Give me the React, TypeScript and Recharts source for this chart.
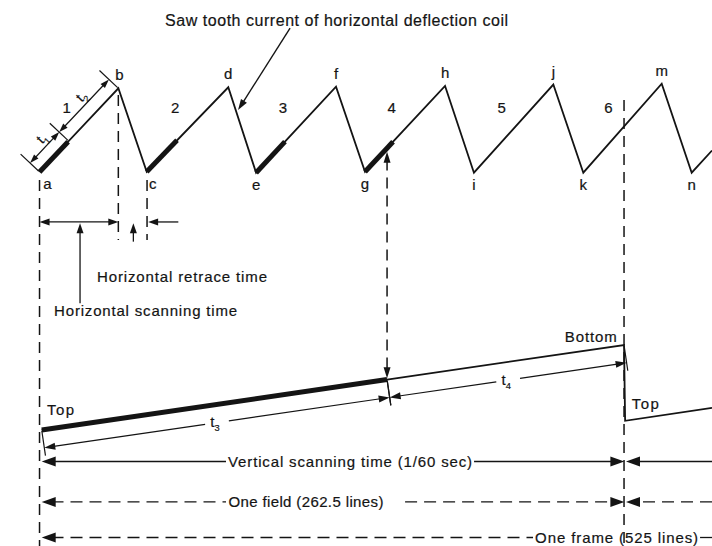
import React from 'react';
import { ComposedChart, Line, XAxis, YAxis, ReferenceLine, ReferenceDot, LabelList } from 'recharts';

const W = 712;
const H = 546;
const INK = '#141414';
const FONT = '"Liberation Sans", Arial, Helvetica, sans-serif';
const TEXT_STROKE = 0.2;

// ---------- data (time in horizontal line periods) ----------
// Horizontal deflection sawtooth current (trough = 0, peak ~ 1)
const hPointNames = ['a', 'b', 'c', 'd', 'e', 'f', 'g', 'h', 'i', 'j', 'k', 'm', 'n', ''];
const hTimes = [0, 0.726, 0.987, 1.738, 1.994, 2.73, 2.997, 3.734, 4.0, 4.731, 5.007, 5.729, 6.005, 6.192];
const hCurrent = [0, 0.973, 0.003, 0.985, -0.008, 0.992, 0.003, 1.0, -0.008, 1.017, -0.008, 1.026, -0.008, 0.25];

// Thick (t1) portion at the start of lines 1-4
const t1StartTimes = [0, 0.987, 1.994, 2.997];
const t1StartCurrent = [0, 0.003, -0.008, 0.003];
const t1EndTimes = [0.263, 1.266, 2.26, 3.255];
const t1EndCurrent = [0.352, 0.368, 0.353, 0.352];
const t1Fraction = 0.37;

// Line numbers
const periodNumbers = ['1', '2', '3', '4', '5', '6'];
const periodTimes = [0.25, 1.248, 2.242, 3.243, 4.256, 5.238];
const periodLevel = 0.69;

// Vertical deflection ramp (top = 0, bottom = 1)
const vTimes = [0.02, 3.2, 5.382, 5.392, 6.192];
const vDeflection = [0, 0.593, 1.0, 0.108, 0.26];

const hData = hTimes.map((t, i) => ({ t, y: hCurrent[i], name: hPointNames[i] }));
const vData = vTimes.map((t, i) => ({ t, y: vDeflection[i] }));
const thickH = t1StartTimes.map((t, i) => [
  { t, y: t1StartCurrent[i] },
  { t: t1EndTimes[i], y: t1EndCurrent[i] },
]);
const thickV = [vData[0], vData[1]];

// ---------- drawing helpers ----------
const head = (tx: number, ty: number, ux: number, uy: number, len: number, half: number) => {
  const bx = tx - ux * len;
  const by = ty - uy * len;
  return `${tx},${ty} ${bx - uy * half},${by + ux * half} ${bx + uy * half},${by - ux * half}`;
};

type Opts = { start?: boolean; end?: boolean; len?: number; half?: number; width?: number; dash?: string };

const okNum = (v: any) => typeof v === 'number' && !isNaN(v);

const arrowShape = (o: Opts) => (p: any) => {
  const { x1, y1, x2, y2 } = p;
  if (![x1, y1, x2, y2].every(okNum)) return <g />;
  const L = Math.hypot(x2 - x1, y2 - y1) || 1;
  const ux = (x2 - x1) / L;
  const uy = (y2 - y1) / L;
  const len = o.len ?? 10;
  const half = o.half ?? 3.5;
  const sx = o.start ? x1 + ux * len * 0.7 : x1;
  const sy = o.start ? y1 + uy * len * 0.7 : y1;
  const ex = o.end ? x2 - ux * len * 0.7 : x2;
  const ey = o.end ? y2 - uy * len * 0.7 : y2;
  return (
    <g>
      <line x1={sx} y1={sy} x2={ex} y2={ey} stroke={INK} strokeWidth={o.width ?? 1.3} strokeDasharray={o.dash} />
      {o.start ? <polygon points={head(x1, y1, -ux, -uy, len, half)} fill={INK} /> : null}
      {o.end ? <polygon points={head(x2, y2, ux, uy, len, half)} fill={INK} /> : null}
    </g>
  );
};

const tSub = (n: string, size = 15) => [
  <tspan key="t">t</tspan>,
  <tspan key="s" fontSize={size * 0.62} dy={size * 0.28}>{n}</tspan>,
];

type DimOpts = {
  up: boolean;
  offset: number;
  tick: number;
  splits: number[];
  labels: string[];
  inline: boolean;
  labelOffset?: number;
  labelShift?: number;
  gap?: number;
  len?: number;
  half?: number;
};

const dimShape = (o: DimOpts) => (p: any) => {
  const { x1, y1, x2, y2 } = p;
  if (![x1, y1, x2, y2].every(okNum)) return <g />;
  const dx = x2 - x1;
  const dy = y2 - y1;
  const L = Math.hypot(dx, dy) || 1;
  const ux = dx / L;
  const uy = dy / L;
  let nx = -uy;
  let ny = ux;
  if ((o.up && ny > 0) || (!o.up && ny < 0)) {
    nx = -nx;
    ny = -ny;
  }
  const len = o.len ?? 9;
  const half = o.half ?? 3;
  const fr = [0, ...o.splits, 1];
  const pts = fr.map((f) => ({ x: x1 + dx * f, y: y1 + dy * f }));
  const ang = (Math.atan2(uy, ux) * 180) / Math.PI;
  const els: React.ReactNode[] = [];
  pts.forEach((q, i) => {
    els.push(
      <line key={`tk${i}`} x1={q.x + nx * 1} y1={q.y + ny * 1} x2={q.x + nx * o.tick} y2={q.y + ny * o.tick} stroke={INK} strokeWidth={1.2} />
    );
  });
  for (let i = 0; i < pts.length - 1; i++) {
    const a = { x: pts[i].x + nx * o.offset, y: pts[i].y + ny * o.offset };
    const b = { x: pts[i + 1].x + nx * o.offset, y: pts[i + 1].y + ny * o.offset };
    const m = { x: (a.x + b.x) / 2, y: (a.y + b.y) / 2 };
    if (o.inline) {
      const g = o.gap ?? 12;
      const ga = { x: m.x - ux * g, y: m.y - uy * g };
      const gb = { x: m.x + ux * g, y: m.y + uy * g };
      els.push(<g key={`l${i}a`}>{arrowShape({ start: true, len, half, width: 1.2 })({ x1: a.x, y1: a.y, x2: ga.x, y2: ga.y })}</g>);
      els.push(<g key={`l${i}b`}>{arrowShape({ end: true, len, half, width: 1.2 })({ x1: gb.x, y1: gb.y, x2: b.x, y2: b.y })}</g>);
      els.push(
        <text key={`tx${i}`} x={m.x - 2} y={m.y} dy="0.3em" textAnchor="middle" fontFamily={FONT} fontSize={15} fill={INK}
          stroke={INK} strokeWidth={TEXT_STROKE}>
          {tSub(o.labels[i])}
        </text>
      );
    } else {
      els.push(<g key={`l${i}`}>{arrowShape({ start: true, end: true, len, half, width: 1.2 })({ x1: a.x, y1: a.y, x2: b.x, y2: b.y })}</g>);
      const lo = o.labelOffset ?? 24;
      const ls = o.labelShift ?? 0;
      const cx = m.x - (o.offset - lo) * nx + ux * ls;
      const cy = m.y - (o.offset - lo) * ny + uy * ls;
      els.push(
        <text key={`tx${i}`} x={cx} y={cy} dy="0.3em" textAnchor="middle" fontFamily={FONT} fontSize={14} fill={INK}
          stroke={INK} strokeWidth={TEXT_STROKE} transform={`rotate(${ang} ${cx} ${cy})`}>
          {tSub(o.labels[i], 14)}
        </text>
      );
    }
  }
  return <g>{els}</g>;
};

type TOpts = { anchor?: 'start' | 'middle' | 'end'; size?: number; len?: number; dy?: string };
const textShape = (content: string, o: TOpts = {}) => (p: any) => {
  if (!okNum(p.cx) || !okNum(p.cy)) return <g />;
  return (
    <text x={p.cx} y={p.cy} dy={o.dy} textAnchor={o.anchor ?? 'start'} fontFamily={FONT} fontSize={o.size ?? 15} fill={INK}
      stroke={INK} strokeWidth={TEXT_STROKE} textLength={o.len} lengthAdjust={o.len ? 'spacing' : undefined}>
      {content}
    </text>
  );
};

const seg = (key: string, axis: string, p1: { x: number; y: number }, p2: { x: number; y: number }, o: Opts) => (
  <ReferenceLine key={key} yAxisId={axis} segment={[p1, p2]} ifOverflow="visible" shape={arrowShape(o)} />
);
const txt = (key: string, axis: string, x: number, y: number, content: string, o: TOpts = {}) => (
  <ReferenceDot key={key} yAxisId={axis} x={x} y={y} r={0} ifOverflow="visible" shape={textShape(content, o)} />
);

const vertexLabel = (p: any) => {
  const { x, y, value, index } = p;
  if (!value || !okNum(x) || !okNum(y)) return null;
  const peak = index % 2 === 1;
  const dx = index === 0 ? 8 : index === 2 ? 6 : index === 1 ? 1 : 0;
  return (
    <text x={x + dx} y={peak ? y - 8 : y + 17} textAnchor="middle" fontFamily={FONT} fontSize={15} fill={INK}
      stroke={INK} strokeWidth={TEXT_STROKE}>
      {value}
    </text>
  );
};

const DASH_V = '11 7';
const DASH_H = '12 7';

export default function App() {
  return (
    <div style={{ position: 'absolute', left: 0, top: 0, width: W, height: H, background: '#fff' }}>
      <ComposedChart width={W} height={H} margin={{ top: 0, right: 0, bottom: 0, left: 0 }}>
        <XAxis type="number" dataKey="t" domain={[-0.364, 6.192]} hide allowDataOverflow />
        <YAxis yAxisId="h" type="number" domain={[-4.349, 2]} hide allowDataOverflow />
        <YAxis yAxisId="v" type="number" domain={[-1.365, 5.059]} hide allowDataOverflow />

        {/* vertical dashed guide lines */}
        {seg('dv0', 'h', { x: 0, y: -0.093 }, { x: 0, y: -4.349 }, { dash: DASH_V, width: 1.5 })}
        {seg('dvb', 'h', { x: 0.7256, y: 0.895 }, { x: 0.7256, y: -0.79 }, { dash: DASH_V, width: 1.5 })}
        {seg('dvc', 'h', { x: 0.99, y: -0.093 }, { x: 0.99, y: -0.79 }, { dash: DASH_V, width: 1.5 })}
        {seg('dvg', 'h', { x: 3.2, y: 0.236 }, { x: 3.2, y: -2.399 }, { dash: DASH_V, width: 1.5, start: true, end: true, len: 11, half: 3.5 })}
        {seg('dv6', 'h', { x: 5.382, y: 0.837 }, { x: 5.382, y: -4.349 }, { dash: DASH_V, width: 1.5 })}

        {/* horizontal sawtooth */}
        <Line yAxisId="h" data={hData} dataKey="y" type="linear" stroke={INK} strokeWidth={1.8} dot={false} activeDot={false} isAnimationActive={false}>
          <LabelList dataKey="name" content={vertexLabel} />
        </Line>
        {thickH.map((d, i) => (
          <Line key={`th${i}`} yAxisId="h" data={d} dataKey="y" type="linear" stroke={INK} strokeWidth={5} dot={false} activeDot={false} isAnimationActive={false} />
        ))}

        {/* vertical ramp */}
        <Line yAxisId="v" data={vData} dataKey="y" type="linear" stroke={INK} strokeWidth={1.8} dot={false} activeDot={false} isAnimationActive={false} />
        <Line yAxisId="v" data={thickV} dataKey="y" type="linear" stroke={INK} strokeWidth={5} dot={false} activeDot={false} isAnimationActive={false} />

        {/* title and pointer */}
        {txt('title', 'h', 1.156, 1.698, 'Saw tooth current of horizontal deflection coil', { size: 16, len: 343 })}
        {seg('ptr', 'h', { x: 2.307, y: 1.674 }, { x: 1.828, y: 0.72 }, { end: true, len: 11, half: 3.5, width: 1.4 })}

        {/* line numbers */}
        {periodNumbers.map((n, i) => txt(`pn${i}`, 'h', periodTimes[i], periodLevel, n, { anchor: 'middle' }))}

        {/* t1 / t2 dimension */}
        <ReferenceLine
          yAxisId="h"
          segment={[{ x: hData[0].t, y: hData[0].y }, { x: hData[1].t, y: hData[1].y }]}
          ifOverflow="visible"
          shape={dimShape({ up: true, offset: 13, tick: 26, splits: [t1Fraction], labels: ['1', '2'], inline: false, labelOffset: 21, labelShift: 5 })}
        />

        {/* horizontal scanning / retrace */}
        {seg('hs', 'h', { x: 0, y: -0.581 }, { x: 0.7256, y: -0.581 }, { start: true, end: true, len: 10, half: 3.5 })}
        {seg('hr', 'h', { x: 1.278, y: -0.581 }, { x: 1.0, y: -0.581 }, { end: true, len: 10, half: 3.5 })}
        {seg('hru', 'h', { x: 0.864, y: -0.81 }, { x: 0.864, y: -0.597 }, { end: true, len: 10, half: 3.5 })}
        {seg('hsu', 'h', { x: 0.373, y: -1.527 }, { x: 0.373, y: -0.597 }, { end: true, len: 10, half: 3.5 })}
        {txt('hrt', 'h', 0.529, -1.276, 'Horizontal retrace time', { len: 170 })}
        {txt('hst', 'h', 0.134, -1.674, 'Horizontal scanning time', { len: 183 })}

        {/* t3 / t4 dimensions */}
        <ReferenceLine
          yAxisId="v"
          segment={[{ x: vData[0].t, y: vData[0].y }, { x: vData[1].t, y: vData[1].y }]}
          ifOverflow="visible"
          shape={dimShape({ up: false, offset: 18, tick: 26, splits: [], labels: ['3'], inline: true, gap: 12, len: 11, half: 3.5 })}
        />
        <ReferenceLine
          yAxisId="v"
          segment={[{ x: vData[1].t, y: vData[1].y }, { x: vData[2].t, y: vData[2].y }]}
          ifOverflow="visible"
          shape={dimShape({ up: false, offset: 18, tick: 26, splits: [], labels: ['4'], inline: true, gap: 12, len: 11, half: 3.5 })}
        />

        {txt('top1', 'v', 0.069, 0.176, 'Top', { len: 27 })}
        {txt('bot', 'v', 5.315, 1.039, 'Bottom', { anchor: 'end', len: 52 })}
        {txt('top2', 'v', 5.453, 0.247, 'Top', { len: 27 })}

        {/* vertical scanning time */}
        {seg('vs1', 'v', { x: 0.02, y: -0.371 }, { x: 1.717, y: -0.371 }, { start: true, len: 14, half: 5 })}
        {seg('vs2', 'v', { x: 4.001, y: -0.371 }, { x: 5.385, y: -0.371 }, { end: true, len: 14, half: 5 })}
        {seg('vs3', 'v', { x: 6.192, y: -0.371 }, { x: 5.4, y: -0.371 }, { end: true, len: 14, half: 5 })}
        {txt('vst', 'v', 1.736, -0.371, 'Vertical scanning time (1/60 sec)', { len: 244, dy: '0.36em' })}

        {/* one field */}
        {seg('of1', 'v', { x: 0.02, y: -0.847 }, { x: 1.717, y: -0.847 }, { start: true, len: 14, half: 5, dash: DASH_H })}
        {seg('of2', 'v', { x: 3.366, y: -0.847 }, { x: 5.385, y: -0.847 }, { end: true, len: 14, half: 5, dash: DASH_H })}
        {seg('of3', 'v', { x: 6.192, y: -0.847 }, { x: 5.4, y: -0.847 }, { end: true, len: 14, half: 5, dash: DASH_H })}
        {txt('oft', 'v', 1.739, -0.847, 'One field (262.5 lines)', { len: 155, dy: '0.36em' })}

        {/* one frame */}
        {seg('fr1', 'v', { x: 0.02, y: -1.265 }, { x: 4.544, y: -1.265 }, { start: true, len: 14, half: 5, dash: DASH_H })}
        {seg('fr2', 'v', { x: 6.082, y: -1.265 }, { x: 6.192, y: -1.265 }, {})}
        {txt('frt', 'v', 4.563, -1.265, 'One frame (525 lines)', { len: 163, dy: '0.36em' })}
      </ComposedChart>
    </div>
  );
}
